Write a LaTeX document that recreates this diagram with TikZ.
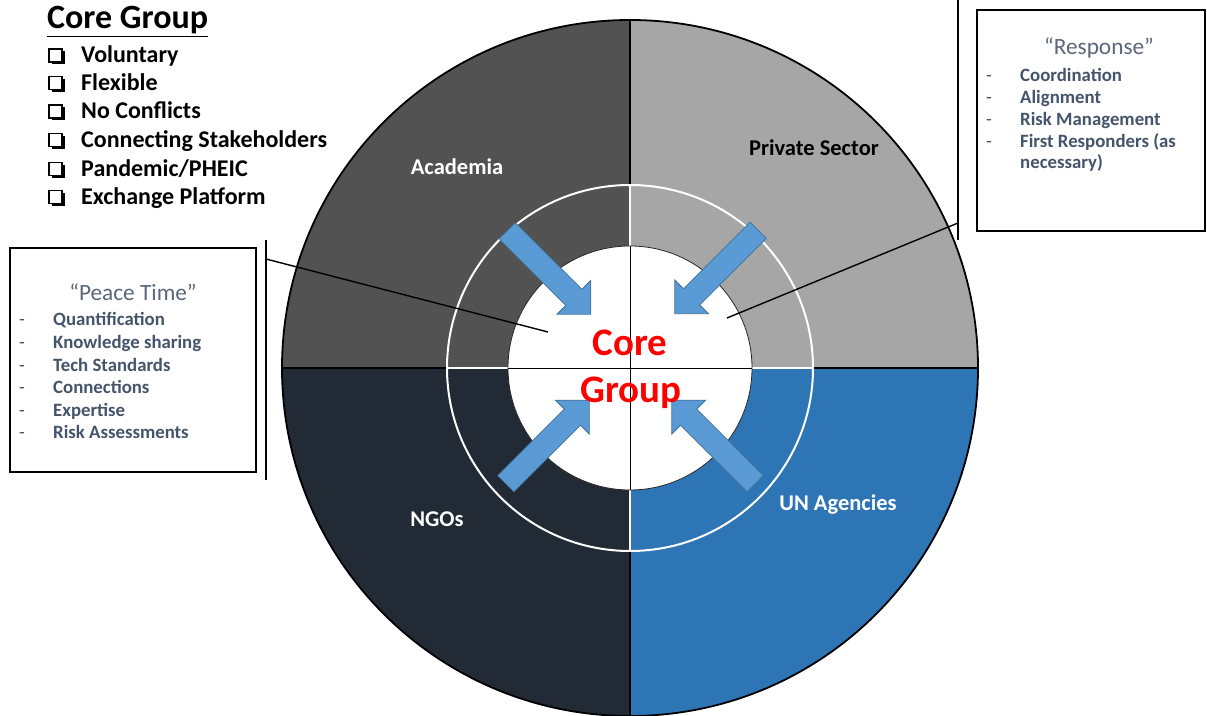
\documentclass[tikz,border=0pt]{standalone}
\usepackage{fontspec}
\setmainfont{Carlito}
\usetikzlibrary{shapes.arrows,calc,shadows}
\definecolor{acadc}{HTML}{525252}
\definecolor{privc}{HTML}{A6A6A6}
\definecolor{ngoc}{HTML}{222A35}
\definecolor{unc}{HTML}{2E75B6}
\definecolor{arrowfill}{HTML}{5B9BD5}
\definecolor{arrowline}{HTML}{41719C}
\definecolor{slate}{HTML}{44546A}
\definecolor{slatelight}{HTML}{5A6679}
\definecolor{corered}{HTML}{FF0000}
\begin{document}
\begin{tikzpicture}[x=1pt,y=1pt,
  quadlabel/.style={anchor=base, font=\fontsize{22.5}{26}\selectfont\bfseries, inner sep=0pt},
  inarrow/.style={single arrow, draw=arrowline, fill=arrowfill, line width=0.8pt,
    minimum height=118pt, single arrow head extend=12.5pt,
    single arrow tip angle=90, single arrow head indent=0pt, inner xsep=0pt, inner ysep=11pt},
  listitem/.style={anchor=base west, font=\fontsize{24}{28}\selectfont\bfseries, inner sep=0pt},
  chkbox/.style={draw, line width=1.3pt, fill=white, minimum size=13pt, inner sep=0pt,
    drop shadow={shadow xshift=2.5pt, shadow yshift=-2.5pt, opacity=1, fill=black}},
  infobox/.style={draw, line width=1.8pt, inner sep=0pt},
  infotitle/.style={anchor=base, font=\fontsize{23.3}{27}\selectfont, text=slatelight, inner sep=0pt},
  infoitem/.style={anchor=base west, font=\fontsize{18.8}{22}\selectfont\bfseries, text=slate, inner sep=0pt},
  infodash/.style={anchor=base west, font=\fontsize{18.8}{22}\selectfont, text=slate, inner sep=0pt},
  leader/.style={line width=1.4pt},
  coretext/.style={anchor=base, font=\fontsize{39}{42}\selectfont\bfseries, text=corered, inner sep=0pt}
]
\useasboundingbox (0,0) rectangle (1207,715);
\coordinate (C) at (630,347);
% quadrants
\fill[acadc] (C) -- ++(180:348) arc[start angle=180,end angle=90,radius=348] -- cycle;
\fill[privc] (C) -- ++(90:348) arc[start angle=90,end angle=0,radius=348] -- cycle;
\fill[ngoc] (C) -- ++(180:348) arc[start angle=180,end angle=270,radius=348] -- cycle;
\fill[unc] (C) -- ++(270:348) arc[start angle=270,end angle=360,radius=348] -- cycle;
\draw[line width=1.8pt] (C) circle[radius=348];
\draw[line width=1.5pt] ($(C)+(-348,0)$) -- ($(C)+(348,0)$);
\draw[line width=1.5pt] ($(C)+(0,-348)$) -- ($(C)+(0,348)$);
% ring
\draw[white, line width=2pt] (C) circle[radius=183];
\foreach \a in {0,90,180,270}
  \draw[white, line width=2pt] ($(C)+(\a:122)$) -- ($(C)+(\a:183)$);
% inner circle
\fill[white] (C) circle[radius=122];
\draw[black!85, line width=0.8pt] (C) circle[radius=122];
\draw[line width=0.9pt] ($(C)+(-122,0)$) -- ($(C)+(122,0)$);
\draw[line width=0.9pt] ($(C)+(0,-122)$) -- ($(C)+(0,122)$);
% arrows
\node[inarrow, rotate=-45] (atl) at (545,446.5) {};
\node[inarrow, rotate=-135] (atr) at (720.5,447) {};
\node[inarrow, rotate=45] (abl) at (543.5,269) {};
\node[inarrow, rotate=135] (abr) at (717.5,269) {};
% core text
\node[coretext] (core) at (630,359) {Core};
\node[coretext] (group) at (631,312) {Group};
% quadrant labels
\node[quadlabel, text=white] (acad) at (457,540.7) {Academia};
\node[quadlabel, text=black] (priv) at (814,559.3) {Private Sector};
\node[quadlabel, text=white] (ngo) at (437,188.3) {NGOs};
\node[quadlabel, text=white] (un) at (838,204.3) {UN Agencies};
% core group list
\node[anchor=base west, inner sep=0pt, font=\fontsize{34}{38}\selectfont\bfseries] (cghead) at (47,686) {\underline{Core Group}};
\foreach \t/\yb [count=\i] in {Voluntary/63,Flexible/90.7,No Conflicts/119,Connecting Stakeholders/147.7,{Pandemic/PHEIC}/176.7,Exchange Platform/204.5} {
  \node[chkbox] (b\i) at (55.5,{715-\yb+7.5}) {};
  \node[listitem] (l\i) at (81,{715-\yb}) {\t};
}
% peace time box
\node[infobox, minimum width=246pt, minimum height=224pt] (pt) at (133,355) {};
\node[infotitle] (pttitle) at (133,414.3) {“Peace Time”};
\foreach \t [count=\i] in {Quantification,Knowledge sharing,Tech Standards,Connections,Expertise,Risk Assessments} {
  \node[infodash] (ptd\i) at (19,{715-326-(\i-1)*22.6}) {-};
  \node[infoitem] (pti\i) at (53,{715-326-(\i-1)*22.6}) {\t};
}
% response box
\node[infobox, minimum width=228pt, minimum height=221pt] (rs) at (1091,594.5) {};
\node[infotitle] (rstitle) at (1099,660) {“Response”};
\foreach \t [count=\i] in {Coordination,Alignment,Risk Management,First Responders (as} {
  \node[infodash] (rsd\i) at (986,{715-81.5-(\i-1)*21.9}) {-};
  \node[infoitem] (rsi\i) at (1020,{715-81.5-(\i-1)*21.9}) {\t};
}
\node[infoitem] (rsi5) at (1020,546) {necessary)};
% leaders
\coordinate (lvt) at (266,475);
\coordinate (lvb) at (266,235);
\coordinate (lj) at (266,456);
\coordinate (lt) at (548,383);
\draw[leader] (lvt) -- (lvb);
\draw[leader] (lj) -- (lt);
\coordinate (rvt) at (958,715);
\coordinate (rvb) at (958,475);
\coordinate (rj) at (958,492);
\coordinate (rt) at (727,397);
\draw[leader] (rvt) -- (rvb);
\draw[leader] (rj) -- (rt);
\end{tikzpicture}
\end{document}
